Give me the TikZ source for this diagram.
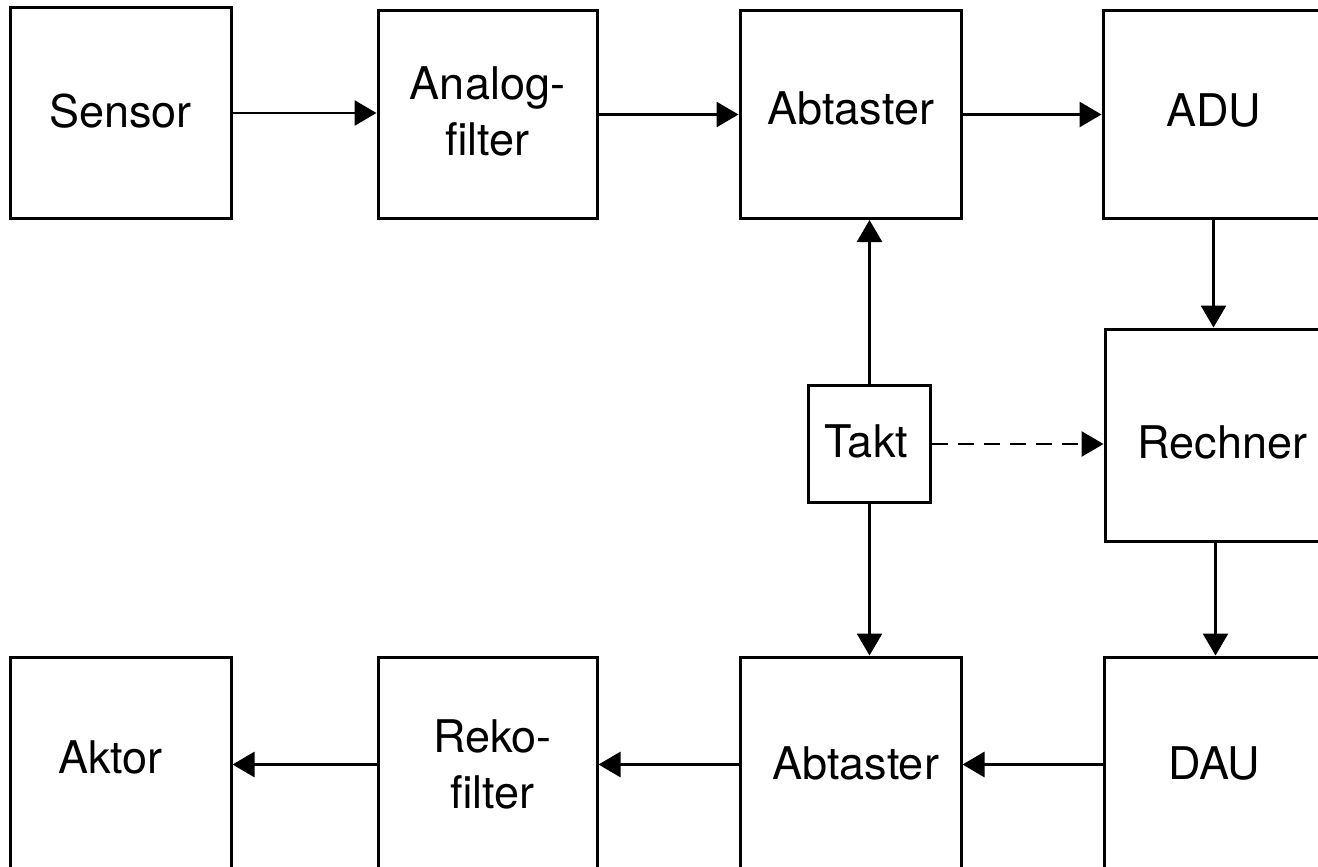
\documentclass[tikz,border=0pt]{standalone}
\usepackage{fontspec}
\setmainfont{TeX Gyre Heros}
\usetikzlibrary{arrows.meta}
\begin{document}
\begin{tikzpicture}[x=1pt,y=-1pt,
  blk/.style={draw=black,line width=3pt,minimum width=221pt,inner sep=0pt},
  lbl/.style={inner sep=0pt,align=center,font=\fontsize{45}{56}\selectfont},
  conn/.style={line width=2.8pt,-{Triangle[length=22pt,width=25pt]}},
  dashconn/.style={conn,dash pattern=on 16pt off 10pt},
]
\useasboundingbox (0,0) rectangle (1318,867);
\clip (0,0) rectangle (1318,867);
% top row
\node[blk,minimum height=210pt,label={[lbl,yshift=2pt]center:Sensor}] (sensor) at (120.5,113) {};
\node[blk,minimum height=208pt,minimum width=219pt,label={[lbl,yshift=3pt]center:Analog-\\filter}] (ana) at (487.5,114.5) {};
\node[blk,minimum height=208pt,label={[lbl,yshift=6pt]center:Abtaster}] (abt1) at (850.5,114.5) {};
\node[blk,minimum height=208pt,label={[lbl,yshift=4pt]center:ADU}] (adu) at (1213.5,114.5) {};
% middle
\node[blk,minimum height=212pt,label={[lbl,xshift=7pt,yshift=-7pt]center:Rechner}] (rech) at (1215.5,435) {};
\node[blk,minimum width=122pt,minimum height=117pt,label={[lbl,xshift=-3pt,yshift=3pt]center:Takt}] (takt) at (869.5,444) {};
% bottom row
\node[blk,minimum height=215pt,label={[lbl,xshift=-10pt,yshift=7pt]center:Aktor}] (aktor) at (120.5,764.5) {};
\node[blk,minimum height=215pt,minimum width=219pt,label={[lbl,xshift=5pt]center:Reko-\\filter}] (reko) at (487.5,764.5) {};
\node[blk,minimum height=215pt,label={[lbl,xshift=5pt,yshift=1pt]center:Abtaster}] (abt2) at (850.5,764.5) {};
\node[blk,minimum height=215pt,label={[lbl,yshift=1pt]center:DAU}] (dau) at (1214.5,764.5) {};
% connectors
\draw[conn] (sensor.east) -- (ana.west |- sensor.east);
\draw[conn] (ana.east) -- (abt1.west);
\draw[conn] (abt1.east) -- (adu.west);
\draw[conn] (adu.south) -- (adu.south |- rech.north);
\draw[conn] (rech.south) -- (rech.south |- dau.north);
\draw[conn] (takt.north) -- (takt.north |- abt1.south);
\draw[conn] (takt.south) -- (takt.south |- abt2.north);
\draw[dashconn] (takt.east) -- (takt.east -| rech.west);
\draw[conn] (dau.west) -- (abt2.east);
\draw[conn] (abt2.west) -- (reko.east);
\draw[conn] (reko.west) -- (aktor.east);
\end{tikzpicture}
\end{document}
